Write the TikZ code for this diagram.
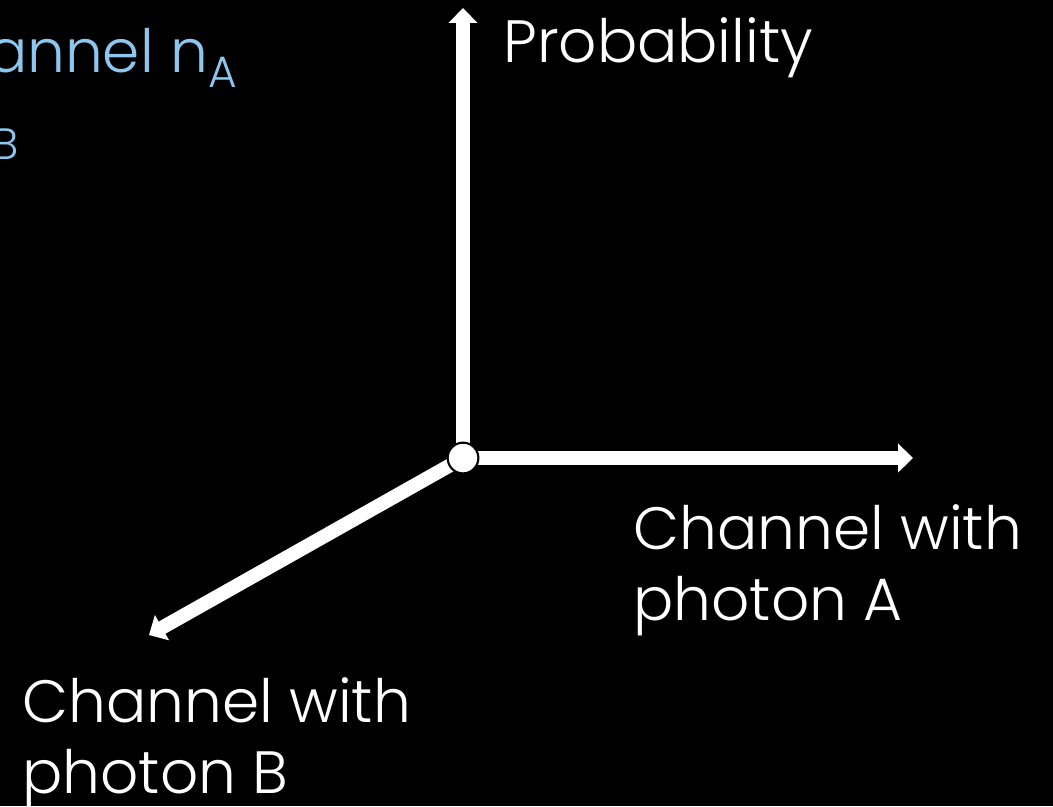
\documentclass[tikz,border=0pt]{standalone}
\usepackage{fontspec}
\setmainfont{Poppins Light}
\usetikzlibrary{arrows.meta}
\definecolor{skyblue}{RGB}{141,198,238}
\begin{document}
\begin{tikzpicture}[
        x=0.02cm, y=-0.02cm,
        axisline/.style={line width=7.9pt, white, -{Triangle[length=8.5pt, width=16pt]}},
        origin/.style={circle, draw=black, fill=white, line width=1.2pt, minimum size=17.5pt, inner sep=0pt},
        axislabel/.style={text=white, inner sep=0pt, font=\fontsize{34}{40}\selectfont, align=left},
        keytext/.style={text=skyblue, inner sep=0pt, font=\fontsize{34}{40}\selectfont}
    ]
        % Background
        \clip (0,0) rectangle (1053,806);
        \fill[black] (0,0) rectangle (1053,806);

        % Axes
        \coordinate (O) at (463,458);
        \coordinate (P) at (463,8);
        \coordinate (A) at (913,458);
        \coordinate (B) at (149,635);
        \draw[axisline] (O) -- (P);
        \draw[axisline] (O) -- (A);
        \draw[axisline] (O) -- (B);
        \node[origin] (Oc) at (O) {};

        % Labels
        \node[axislabel, anchor=base west] (lblP) at (503,62) {Probability};
        \node[axislabel, anchor=base west] (lblA) at (633,620) {Channel with\\photon A};
        \node[axislabel, anchor=base west] (lblB) at (22,793) {Channel with\\photon B};

        % Channel keys (cut off at the left)
        \node[keytext, anchor=base east] (keyA) at (237,72) {Channel n{\fontsize{25}{25}\selectfont\raisebox{-9pt}{A}}};
        \node[keytext, anchor=base east] (keyB) at (19,144) {Channel n{\fontsize{25}{25}\selectfont\raisebox{-9pt}{B}}};
    \end{tikzpicture}
\end{document}
